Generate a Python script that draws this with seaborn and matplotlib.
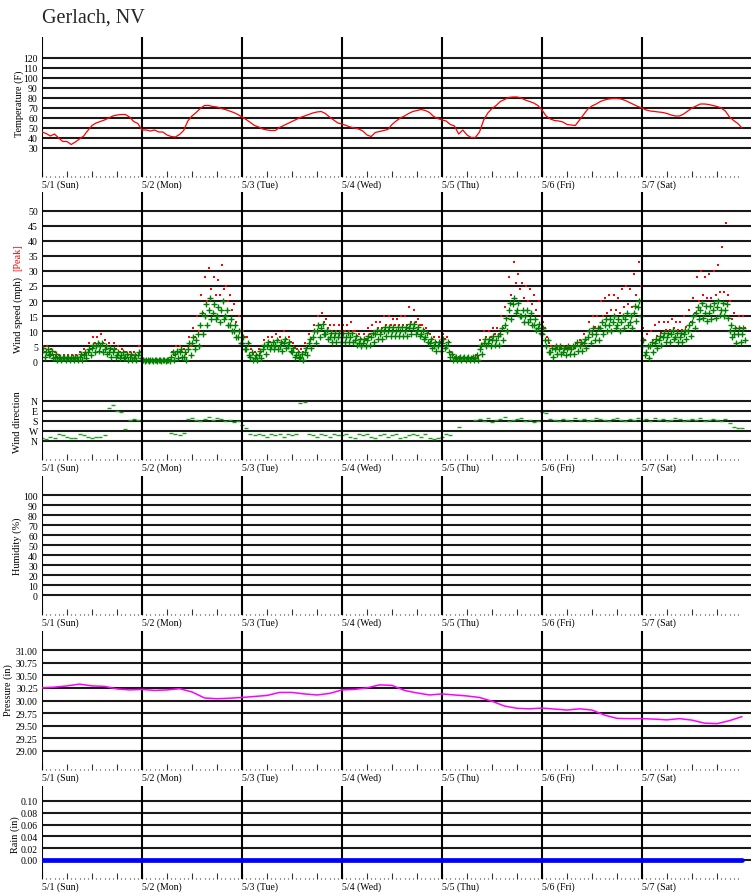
import numpy as np
import pandas as pd
import matplotlib
matplotlib.use('Agg')
import matplotlib.pyplot as plt
import seaborn as sns

sns.set_theme(style='white')
plt.rcParams['font.family'] = ['Liberation Serif', 'DejaVu Serif']

W, H = 751, 895

day_labels = ['5/1 (Sun)', '5/2 (Mon)', '5/3 (Tue)', '5/4 (Wed)', '5/5 (Thu)', '5/6 (Fri)', '5/7 (Sat)']

# hourly readings from 5/1 00:00
temp_f = [46, 44.5, 42, 44, 40, 36.5, 36.5, 33.5, 36, 39, 42, 47.5, 52.5, 55, 56.5, 58, 60, 62, 63, 63.5, 63.5, 61, 56.5, 54.5,
          48, 48, 47, 48, 46, 46, 43, 41.5, 41, 43.5, 47.5, 57, 62, 65.5, 69.5, 72.5, 72.5, 71.5, 71, 69.5, 68.5, 67, 65.5, 63.5,
          61, 58.5, 55.5, 52.5, 51, 49, 48, 47.5, 47.5, 50.5, 52.5, 54.5, 56.5, 58.5, 60.5, 62, 63.5, 65, 66, 66.5, 64.5, 61, 58, 55,
          54, 52.5, 51, 50, 49, 47, 43, 41.5, 45.5, 46.5, 47.5, 48.5, 53.5, 57, 60, 62, 64.5, 66.5, 67.5, 68.5, 67.5, 65.5, 61.5, 59.5,
          58, 57, 53.5, 52, 44, 48, 43, 40.5, 40.5, 46, 58, 65, 69.5, 72.5, 76.5, 78.5, 80.5, 81, 81, 80, 78, 76.5, 75, 72.5,
          68, 62, 59, 57.5, 57, 56, 53.5, 53, 52.5, 58, 63.5, 69, 72, 74, 76.5, 78, 79, 79.5, 79.5, 79, 77.5, 75.5, 73.5, 71.5,
          70, 68, 67, 66.5, 66, 65.5, 64.5, 63, 62, 62, 64, 67, 70, 72, 74, 74, 73.5, 72.5, 71.5, 70, 67, 61, 57.5, 54.5, 50]

# wind: hourly average with the low/high of the readings in that hour, and the peak gusts
wind_avg = [3, 3, 2.5, 1.5, 1, 1, 1, 1, 1, 1.5, 2, 3, 4.5, 5, 5, 4, 3, 3, 2, 2, 1.5, 1.5, 1, 2,
            0.3, 0.3, 0.3, 0.3, 0.3, 0.3, 0.3, 1.5, 2.5, 3, 1.5, 4, 6, 7, 12, 15, 17, 16, 15, 17, 15, 12, 10, 8,
            6, 4, 1.5, 1, 2, 4, 5, 5, 5.5, 5, 6, 5, 3, 2, 1.5, 3, 6, 8, 10, 11, 9, 8, 8, 8,
            8, 8, 8, 7, 6, 6, 7, 8, 9, 9, 10, 10, 10, 10, 10, 10, 11, 11, 10, 9, 8, 6, 5, 5,
            6, 5, 1.5, 1, 1, 1, 1, 1, 1, 4, 6, 6, 7, 7, 9, 12, 17, 19, 17, 15, 15, 14, 12, 11,
            9, 5, 3, 4, 4, 3, 4, 4, 5, 5, 6, 8, 9, 9, 11, 12, 12, 13, 12, 13, 14, 13, 16, 18,
            5, 3, 5, 6, 7, 8, 8, 9, 8, 8, 9, 10, 13, 16, 17, 16, 16, 17, 18, 17, 17, 10, 9, 9, 9]

wind_lo = [1.5, 2, 1, 0.5, 0.5, 0.5, 0.5, 0.5, 0.5, 0.5, 1, 2, 3, 3.5, 3, 2.5, 1.5, 1.5, 1, 1, 0.5, 0.5, 0.5, 1,
           0, 0, 0, 0, 0, 0, 0, 0.5, 1, 1.5, 0.5, 2, 4, 5, 9, 12, 14, 14, 13, 14, 12, 10, 8, 6,
           4, 2, 0.5, 0.5, 1, 2.5, 4, 4, 4, 3.5, 4.5, 3.5, 1.5, 1, 0.5, 2, 4.5, 6, 8, 9, 7.5, 6.5, 6.5, 6.5,
           6.5, 6.5, 6.5, 5.5, 5, 5, 5.5, 6.5, 7.5, 7.5, 8.5, 8.5, 8.5, 8.5, 8.5, 8.5, 9, 9, 8.5, 7.5, 6.5, 4.5, 3.5, 3.5,
           4.5, 3, 0.5, 0.5, 0.5, 0.5, 0.5, 0.5, 0.5, 2.5, 5, 5, 5.5, 5.5, 7, 10, 14, 16, 15, 13, 13, 12, 10.5, 9.5,
           7, 3, 1.5, 2.5, 2.5, 2, 2.5, 2.5, 3.5, 3.5, 4.5, 6, 7, 7, 9, 10, 10, 11, 10, 11, 12, 11, 13.5, 15,
           2, 1, 3, 4.5, 5.5, 6.5, 6.5, 7.5, 6.5, 6.5, 7.5, 8.5, 11, 14, 14.5, 13.5, 14, 14.5, 15.5, 15, 14.5, 8, 6, 6.5, 7]

wind_hi = [4.5, 4, 3.5, 2.5, 1.5, 1.5, 1.5, 1.5, 1.5, 2.5, 3, 4, 5.5, 6, 6, 5, 4.5, 4, 3, 3, 2.5, 2.5, 2, 3,
           0.5, 0.5, 0.5, 0.5, 0.5, 0.5, 0.5, 3, 3.5, 4, 3, 6, 8, 9, 16, 19, 21, 19, 18, 20, 17, 14, 12, 10,
           8, 6, 3, 2, 3.5, 5.5, 6.5, 6.5, 7, 6.5, 7.5, 6.5, 4.5, 3, 2.5, 4.5, 7.5, 10, 12, 12.5, 10.5, 9.5, 9.5, 9.5,
           9.5, 9.5, 9.5, 8.5, 7.5, 7.5, 8.5, 9.5, 10.5, 10.5, 11.5, 11.5, 11.5, 11.5, 11.5, 11.5, 12.5, 12.5, 11.5, 10.5, 9.5, 7.5, 6.5, 6.5,
           7.5, 6.5, 2.5, 1.5, 1.5, 1.5, 1.5, 1.5, 2, 5.5, 7.5, 7.5, 8.5, 8.5, 11, 14.5, 19.5, 21, 19.5, 17, 17, 16, 14, 12.5,
           11, 7, 4.5, 5, 5, 4.5, 5, 5, 6.5, 6.5, 7.5, 10, 11, 11, 13, 14, 14, 15, 14, 15, 16, 15, 18.5, 20,
           7, 5, 6.5, 7.5, 8.5, 9.5, 9.5, 10.5, 9.5, 9.5, 10.5, 12, 15, 18, 19.5, 18.5, 18.5, 19.5, 20, 19.5, 19, 12, 11, 11, 11]

peak_lo = [3, 3, 2, 1.5, 1, 1, 1, 1, 1, 2, 2.5, 4, 6, 6, 6, 5, 4, 4, 3, 3, 2, 2, 2, 3,
           0.3, 0.3, 0.3, 0.3, 0.3, 0.3, 0.3, 2, 3, 3, 2.5, 5, 8, 10, 16, 20, 24, 22, 22, 24, 20, 17, 13, 10,
           8, 6, 2.5, 2, 3, 5, 6.5, 6.5, 7, 6.5, 7.5, 6.5, 4.5, 3, 3, 4.5, 7.5, 10, 12, 13, 11, 10, 10, 10,
           10, 10, 10, 8.5, 7.5, 7.5, 9, 10, 11, 11, 12, 12, 12, 12, 12, 12, 13, 13, 12, 10.5, 9.5, 7.5, 6.5, 6.5,
           7.5, 6.5, 2, 1, 1, 1, 1, 1, 1.5, 5.5, 8, 8, 9, 9, 11, 15, 22, 26, 24, 21, 20, 19, 17, 15,
           11, 6, 4, 4.5, 4.5, 4.5, 4.5, 4.5, 5, 5.5, 7, 10, 11.5, 11.5, 15, 16, 17, 17, 16, 18, 19, 18, 22, 25,
           7, 5, 7, 8.5, 9.5, 10.5, 10.5, 11, 10.5, 10.5, 11.5, 13, 16, 20, 22, 21, 21, 22, 23, 23, 22, 14, 11, 11, 11]

wind_peak = [5, 5, 4, 3, 2, 2, 2, 2, 2, 3, 4, 6, 8, 8, 9, 7, 6, 6, 5, 4, 3, 3, 3, 5,
             0.5, 0.5, 0.5, 0.5, 0.5, 0.5, 0.5, 3, 5, 5, 4, 8, 11, 15, 22, 28, 31, 28, 27, 32, 25, 22, 19, 15,
             10, 8, 4, 3, 4, 7, 8, 8, 9, 8, 10, 8, 6, 4, 4, 6, 9, 12, 15, 16, 14, 12, 12, 12,
             12, 12, 13, 10, 9, 9, 11, 12, 13, 13, 15, 15, 14, 14, 15, 15, 18, 17, 14, 12, 11, 9, 8, 8,
             9, 8, 3, 1.5, 1.5, 1.5, 1.5, 1.5, 2, 7, 10, 10, 11, 11, 15, 18, 28, 33, 29, 26, 25, 24, 22, 20,
             13, 8, 5, 5, 5, 5, 5, 5, 6, 7, 9, 13, 15, 15, 20, 21, 22, 22, 21, 24, 25, 24, 29, 33,
             11, 9, 10, 12, 13, 13, 13, 14, 13, 13, 15, 17, 21, 28, 30, 28, 29, 30, 32, 38, 46, 20, 16, 15, 15]

nan = np.nan
wind_dir = [330, 340, 320, 330, 300, 310, 320, 330, 330, 300, 310, 320, 330, 320, 320, 310, 60, 40, 90, 100, 250, 170, 160, 170,
            nan, nan, nan, nan, nan, nan, nan, 290, 300, 310, 290, 160, 150, 170, 180, 160, 140, 170, 150, 160, 180, 170, 190, 180,
            220, 240, 300, 310, 300, 310, 320, 300, 310, 300, 320, 300, 310, 300, 20, 10, 300, 310, 320, 300, 310, 320, 300, 310,
            310, 300, 320, 330, 300, 310, 300, 320, 330, 310, 300, 320, 310, 300, 330, 320, 310, 300, 310, 320, 300, 330, 340, 330,
            320, 300, 310, nan, 230, nan, nan, nan, 170, 160, 180, 150, 190, 170, 160, 140, 180, 170, 160, 150, 180, 170, 190, 180,
            100, 110, 160, 170, 180, 160, 170, 180, 150, 170, 160, 180, 170, 150, 160, 170, 180, 160, 150, 170, 180, 160, 170, 150,
            170, 160, 180, 150, 170, 160, 180, 170, 150, 160, 180, 170, 160, 170, 150, 180, 170, 160, 170, 180, 160, 200, 230, 240, 240]

# 3-hourly pressure readings
pres_in = [30.25, 30.265, 30.29, 30.325, 30.29, 30.28, 30.23, 30.21,
           30.22, 30.20, 30.21, 30.235, 30.17, 30.05, 30.035, 30.045,
           30.06, 30.08, 30.10, 30.16, 30.16, 30.13, 30.11, 30.14,
           30.21, 30.22, 30.25, 30.31, 30.30, 30.20, 30.15, 30.11,
           30.13, 30.11, 30.09, 30.06, 29.985, 29.89, 29.845, 29.835,
           29.85, 29.83, 29.81, 29.835, 29.81, 29.71, 29.645, 29.64,
           29.64, 29.63, 29.615, 29.64, 29.61, 29.55, 29.54, 29.60, 29.68]

rain_in = [0.00, 0.00, 0.00, 0.00, 0.00, 0.00, 0.00, 0.00]

hour_day = np.arange(len(temp_f)) / 24
hourly = pd.DataFrame({'day': hour_day, 'temp': temp_f, 'dir': wind_dir})
# readings within each hour: avg at :00, high at :20, low at :40; gusts at :10 and :40
wind = pd.concat([
    pd.DataFrame({'day': hour_day, 'mph': wind_avg}),
    pd.DataFrame({'day': hour_day + 20 / 1440, 'mph': wind_hi}),
    pd.DataFrame({'day': hour_day + 40 / 1440, 'mph': wind_lo}),
])
gust = pd.concat([
    pd.DataFrame({'day': hour_day + 10 / 1440, 'mph': wind_peak}),
    pd.DataFrame({'day': hour_day + 40 / 1440, 'mph': peak_lo}),
])
pres = pd.DataFrame({'day': np.arange(len(pres_in)) * 3 / 24, 'p': pres_in})
rain = pd.DataFrame({'day': np.arange(len(rain_in)), 'r': rain_in})

fig = plt.figure(figsize=(W / 100, H / 100), dpi=100)


def panel(top, bottom):
    return fig.add_axes([42 / W, 1 - bottom / H, (W - 42) / W, (bottom - top) / H])


def style(ax, yticks, ylim, ylabels=None, xlabels=True):
    ax.set_xlim(0, 7.09)
    ax.set_ylim(*ylim)
    for s in ax.spines.values():
        s.set_visible(False)
    ax.set_yticks(yticks)
    if ylabels is not None:
        ax.set_yticklabels(ylabels)
    ax.yaxis.grid(True, color='#1a1a1a', lw=1.5)
    ax.xaxis.grid(False)
    ax.tick_params(axis='y', length=0, pad=3, labelsize=7, colors='black')
    for d in range(7):
        ax.axvline(d, color='black', lw=1.5, zorder=1)
    ax.set_xlabel('')
    ax.set_ylabel('')
    if xlabels:
        major = np.arange(0, 7, 0.25)
        ax.set_xticks(major)
        ax.set_xticks(np.arange(0, 7, 1 / 24), minor=True)
        ax.set_xticklabels([day_labels[int(t)] if t == int(t) else '' for t in major])
        ax.tick_params(axis='x', which='major', direction='in', length=4, width=0.8, color='#333',
                       bottom=True, pad=2, labelsize=7, labelcolor='black')
        ax.tick_params(axis='x', which='minor', direction='in', length=1, width=0.8, color='#333', bottom=True)
        for lab in ax.get_xticklabels():
            lab.set_ha('left')
    else:
        ax.set_xticks([])


def ylab(x, y, text, color='black'):
    fig.text(x / W, 1 - y / H, text, rotation=90, ha='center', va='center', fontsize=7.4, color=color)


fig.text(42 / W, 1 - 18 / H, 'Gerlach, NV', fontsize=14.5, ha='left', va='center')

# temperature
ax = panel(38, 178)
sns.lineplot(data=hourly, x='day', y='temp', ax=ax, color='red', lw=0.9)
style(ax, range(30, 121, 10), (1, 141))
ylab(19, 104, 'Temperature (F)')

# wind speed
ax = panel(193, 390)
sns.scatterplot(data=gust, x='day', y='mph', ax=ax, color='red', marker='s', s=2, linewidth=0)
sns.scatterplot(data=wind, x='day', y='mph', ax=ax, color='green', marker='+', s=22, linewidth=1)
style(ax, range(0, 51, 5), (-9.3, 56.3), xlabels=False)
ylab(18, 315, 'Wind speed (mph)')
ylab(18, 258, '[Peak]', color='red')

# wind direction
ax = panel(390, 461)
sns.scatterplot(data=hourly, x='day', y='dir', ax=ax, color='#22a022', marker='_', s=8, linewidth=1)
style(ax, [0, 90, 180, 270, 360], (531, -108), ylabels=['N', 'E', 'S', 'W', 'N'])
ylab(18, 422, 'Wind direction')

# humidity (no readings)
ax = panel(477, 616)
style(ax, range(0, 101, 10), (-20, 119))
ylab(17, 546, 'Humidity (%)')

# pressure
ax = panel(632, 771)
sns.lineplot(data=pres, x='day', y='p', ax=ax, color='magenta', lw=1.1)
style(ax, np.arange(29, 31.01, 0.25), (28.62, 31.38))
ax.yaxis.set_major_formatter(matplotlib.ticker.FormatStrFormatter('%.2f'))
ylab(8, 690, 'Pressure (in)')

# rain
ax = panel(787, 880)
sns.lineplot(data=rain, x='day', y='r', ax=ax, color='blue', lw=3.4)
style(ax, np.arange(0, 0.101, 0.02), (-0.0322, 0.1254))
ax.yaxis.set_major_formatter(matplotlib.ticker.FormatStrFormatter('%.2f'))
ylab(15, 835, 'Rain (in)')

fig.savefig('out.png', dpi=100)
